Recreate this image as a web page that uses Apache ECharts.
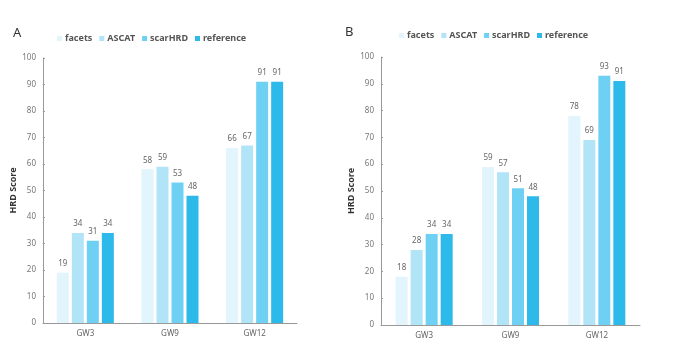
<!DOCTYPE html>
<html><head><meta charset="utf-8">
<script src="https://cdn.jsdelivr.net/npm/echarts@6/dist/echarts.min.js"></script>
<style>html,body{margin:0;padding:0;background:#fff}#c{width:685px;height:360px}</style>
</head><body><div id="c"></div>
<script>
const categories = ['GW3', 'GW9', 'GW12'];
const seriesNames = ['facets', 'ASCAT', 'scarHRD', 'reference'];
const colors = ['#E2F4FC', '#B2E4F8', '#6ED1F3', '#2DBAEA'];
const yTicks = [0, 10, 20, 30, 40, 50, 60, 70, 80, 90, 100];
// Panel A
const facetsA = [19, 58, 66];
const ascatA = [34, 59, 67];
const scarA = [31, 53, 91];
const refA = [34, 48, 91];
// Panel B
const facetsB = [18, 59, 78];
const ascatB = [28, 57, 69];
const scarB = [34, 51, 93];
const refB = [34, 48, 91];

const FONT = '"Noto Sans", "Open Sans", sans-serif';
const chart = echarts.init(document.getElementById('c'));

function xAxis(gi) {
  return {
    type: 'category', gridIndex: gi, data: categories,
    axisLine: { lineStyle: { color: '#999', width: 1 } },
    axisTick: { show: false },
    axisLabel: { color: '#666', fontSize: 8, fontFamily: FONT, margin: 7 }
  };
}
function yAxis(gi) {
  return {
    type: 'value', gridIndex: gi, min: yTicks[0], max: yTicks[yTicks.length - 1], interval: 10,
    name: 'HRD Score', nameLocation: 'middle', nameGap: 24,
    nameTextStyle: { color: '#333', fontSize: 9, fontWeight: 'bold', fontFamily: FONT },
    axisLine: { show: true, lineStyle: { color: '#999', width: 1 } },
    axisTick: { show: true, inside: true, length: 2, lineStyle: { color: '#999' } },
    splitLine: { show: false },
    axisLabel: { color: '#777', fontSize: 8, fontFamily: FONT, margin: 7 }
  };
}
function makeSeries(gi, arrs) {
  return arrs.map((d, i) => ({
    name: seriesNames[i], type: 'bar', xAxisIndex: gi, yAxisIndex: gi,
    data: d, barWidth: 12, barGap: '25%',
    itemStyle: { color: colors[i] },
    label: { show: true, position: 'top', distance: 5, color: '#666', fontSize: 8, fontFamily: FONT }
  }));
}
function legend(left, top) {
  return {
    data: seriesNames, left: left, top: top, icon: 'rect',
    itemWidth: 5, itemHeight: 5, itemGap: 7,
    textStyle: { color: '#555', fontSize: 9, fontWeight: 'bold', fontFamily: FONT, padding: [0, 0, 0, -2] }
  };
}

chart.setOption({
  animation: false,
  color: colors,
  textStyle: { fontFamily: FONT },
  title: [
    { text: 'A', left: 8, top: 22, textStyle: { fontSize: 13, fontWeight: 'normal', color: '#333', fontFamily: FONT } },
    { text: 'B', left: 340, top: 21, textStyle: { fontSize: 13, fontWeight: 'normal', color: '#333', fontFamily: FONT } }
  ],
  legend: [legend(52, 29), legend(394, 26)],
  grid: [
    { left: 43, right: 388, top: 58, bottom: 37 },
    { left: 381, right: 45, top: 57, bottom: 35 }
  ],
  xAxis: [xAxis(0), xAxis(1)],
  yAxis: [yAxis(0), yAxis(1)],
  series: [
    ...makeSeries(0, [facetsA, ascatA, scarA, refA]),
    ...makeSeries(1, [facetsB, ascatB, scarB, refB])
  ]
});
</script></body></html>
